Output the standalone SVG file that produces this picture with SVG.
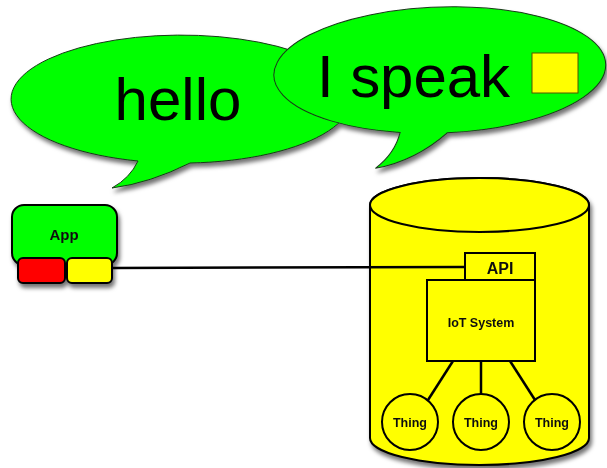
<svg xmlns="http://www.w3.org/2000/svg" width="607" height="468" viewBox="0 0 607 468">
<defs>
<filter id="shadow" x="-10%" y="-10%" width="130%" height="130%">
<feDropShadow dx="2" dy="4" stdDeviation="2" flood-color="#000" flood-opacity="0.55"/>
</filter>
<style>
.bubble{fill:#00ff00;stroke:#1a3a1a;stroke-width:1}
.big{font-family:"Liberation Sans",Arial,sans-serif;font-size:60px;fill:#000}
.lbl{font-family:"Liberation Sans",Arial,sans-serif;font-weight:bold;fill:#111;text-anchor:middle}
.box{fill:#ffff00;stroke:#000;stroke-width:2}
.conn{stroke:#000;stroke-width:2.5;fill:none}
</style>
</defs>
<rect width="607" height="468" fill="#fff"/>
<g filter="url(#shadow)">
<g id="hello">
<path class="bubble" d="M138,161 A170,64 0 1 1 190,163 Q150,183 112,188 Q130,178 138,161 Z"/>
<text class="big" x="178" y="120" text-anchor="middle">hello</text>
</g>
<g id="ispeak">
<path class="bubble" transform="rotate(-2 439 70)" d="M398,131 A166,63 0 1 1 445,133 Q412,160 372,166 Q392,152 398,131 Z"/>
<text class="big" x="317" y="97" font-size="61" textLength="193">I speak</text>
<rect x="532" y="53" width="46" height="40" fill="#ffff00" stroke="#555500" stroke-width="1"/>
</g>
<g id="app">
<rect x="12" y="205" width="105" height="60" rx="12" fill="#00ff00" stroke="#000" stroke-width="2"/>
<rect x="18" y="258" width="47" height="25" rx="5" fill="#ff0000" stroke="#000" stroke-width="2"/>
<rect x="67" y="258" width="45" height="25" rx="5" fill="#ffff00" stroke="#000" stroke-width="2"/>
<text class="lbl" x="64" y="240" font-size="15">App</text>
</g>
<g id="iot-cylinder">
<path d="M370,205 L370,438 A109.5,27 0 0 0 589,438 L589,205 A109.5,27 0 0 0 370,205 Z" fill="#ffff00" stroke="#000" stroke-width="2"/>
<ellipse cx="479.5" cy="205" rx="109.5" ry="27" fill="#ffff00" stroke="#000" stroke-width="2"/>
</g>
<g id="api">
<rect class="box" x="465" y="253" width="70" height="27"/>
<text class="lbl" x="500" y="274" font-size="16">API</text>
</g>
<g id="iot-system">
<rect class="box" x="427" y="280" width="108" height="81"/>
<text class="lbl" x="481" y="327" font-size="12.5">IoT System</text>
</g>
<g id="thing1">
<circle class="box" cx="410" cy="422" r="28"/>
<text class="lbl" x="410" y="427" font-size="12.5">Thing</text>
</g>
<g id="thing2">
<circle class="box" cx="481" cy="422" r="28"/>
<text class="lbl" x="481" y="427" font-size="12.5">Thing</text>
</g>
<g id="thing3">
<circle class="box" cx="552" cy="422" r="28"/>
<text class="lbl" x="552" y="427" font-size="12.5">Thing</text>
</g>
</g>
<g id="connectors">
<path class="conn" d="M112,268 L465,267"/>
<path class="conn" d="M453,361 L428,400"/>
<path class="conn" d="M481,361 L481,394"/>
<path class="conn" d="M510,361 L535,400"/>
</g>
</svg>
